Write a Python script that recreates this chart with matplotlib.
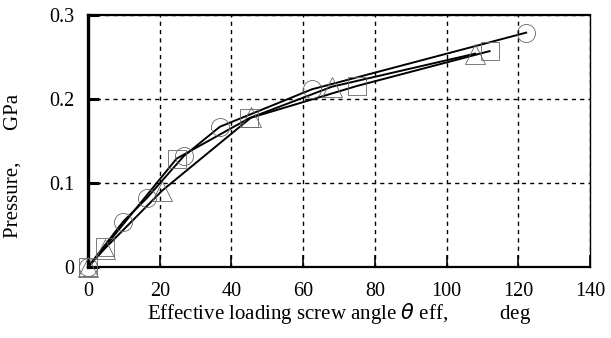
import matplotlib
matplotlib.use("Agg")
import matplotlib.pyplot as plt

plt.rcParams["font.family"] = ["Liberation Serif", "DejaVu Serif"]
plt.rcParams["mathtext.fontset"] = "dejavusans"

# Measured pressure vs effective loading screw angle, three runs
circle_x = [0, 9.8, 16.4, 26.7, 36.8, 62.4, 122.2]
circle_y = [0, 0.054, 0.082, 0.132, 0.167, 0.2115, 0.279]

triangle_x = [0, 4.7, 20.7, 45.5, 68.0, 108.0]
triangle_y = [0, 0.022, 0.091, 0.178, 0.2146, 0.254]

square_x = [0, 4.7, 24.7, 44.9, 75.0, 112.0]
square_y = [0, 0.024, 0.129, 0.177, 0.2155, 0.257]

x_ticks = [0, 20, 40, 60, 80, 100, 120, 140]
y_ticks = [0, 0.1, 0.2, 0.3]
y_tick_labels = ["0", "0.1", "0.2", "0.3"]

fig = plt.figure(figsize=(6.11, 3.38), dpi=100)
ax = fig.add_axes([88 / 611, 1 - 267 / 338, 502 / 611, 252 / 338])

series = [
    (circle_x, circle_y, "o", 13),
    (triangle_x, triangle_y, "^", 14),
    (square_x, square_y, "s", 13),
]
for xs, ys, mk, ms in series:
    ax.plot(xs, ys, color="black", lw=1.4, zorder=3, clip_on=False)
    ax.plot(xs, ys, ls="none", marker=mk, ms=ms, mfc="none", mec="#666666",
            mew=0.6, zorder=4, clip_on=False)

ax.set_xlim(0, 140)
ax.set_ylim(0, 0.3)
ax.set_xticks(x_ticks)
ax.set_yticks(y_ticks)
ax.set_yticklabels(y_tick_labels)

ax.grid(True, color="black", linestyle=(0, (3, 3)), linewidth=1.0)
ax.set_axisbelow(True)

ax.tick_params(axis="x", direction="in", length=9, width=1.2, pad=11,
               labelsize=14.5, top=False)
ax.tick_params(axis="y", direction="in", length=8, width=2.2, pad=10,
               labelsize=14.5, right=False)

ax.spines["left"].set_linewidth(2.4)
ax.spines["bottom"].set_linewidth(1.6)
ax.spines["top"].set_linewidth(1.6)
ax.spines["right"].set_linewidth(1.0)

ax.set_xlabel("Effective loading screw angle " + r"$\theta$" + " eff," + " " * 10 + "deg",
              fontsize=15, labelpad=0)
ax.set_ylabel("Pressure," + " " * 6 + "GPa", fontsize=15)
ax.yaxis.set_label_coords(-0.13, 0.40)

fig.savefig("out.png", dpi=100)
